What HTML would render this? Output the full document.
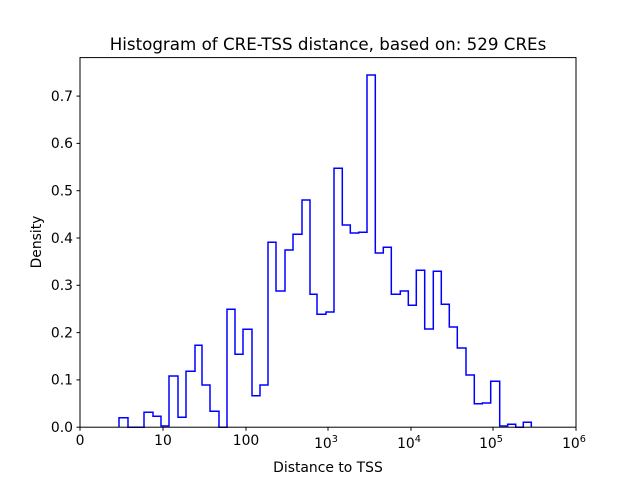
<!DOCTYPE html>
<html><head><style>body{margin:0;background:#fff}svg{display:block}text{font-family:"DejaVu Sans","Liberation Sans",sans-serif;fill:#000}</style></head><body>
<svg width="640" height="480" viewBox="0 0 640 480">
<rect width="640" height="480" fill="#fff"/>
<path fill="none" stroke="#0000ff" stroke-width="1.5" stroke-linejoin="miter" d="M119,427.2 V417.7 H128 V427.2 H144 V412.3 H153 V416.3 H161 V426 H169 V376 H178 V417.3 H186 V371.3 H195 V345.3 H202 V385 H210 V411.3 H219 V427.2 H227 V309.3 H235 V354.3 H243 V329.3 H252 V395.7 H260 V385 H268 V242.3 H276 V291 H285 V250 H293 V234.3 H302 V200 H310 V294.3 H317 V314.3 H326 V312 H334 V168.3 H342.3 V225 H350.3 V233 H358.7 V232.3 H367 V75 H375.3 V253 H383.3 V247.3 H391.3 V294.3 H400.3 V291 H408.3 V305.3 H416.3 V270.3 H424.7 V329 H433.3 V271.3 H441.3 V304.3 H449.3 V327 H457.3 V348 H466 V375 H474.3 V403.7 H482.3 V403 H490.7 V381.3 H499.7 V426 H507.7 V424.3 H515.7 V427.2 H523.3 V422.3 H531.3 V427.2"/>
<rect x="80" y="57.6" width="496" height="369.6" fill="none" stroke="#000" stroke-width="1"/>
<g stroke="#000" stroke-width="1">
<line x1="80" y1="427.2" x2="80" y2="430.7"/><line x1="163" y1="427.2" x2="163" y2="430.7"/><line x1="246" y1="427.2" x2="246" y2="430.7"/><line x1="328" y1="427.2" x2="328" y2="430.7"/><line x1="411" y1="427.2" x2="411" y2="430.7"/><line x1="493" y1="427.2" x2="493" y2="430.7"/><line x1="576" y1="427.2" x2="576" y2="430.7"/>
<line x1="76.5" y1="427.2" x2="80" y2="427.2"/><line x1="76.5" y1="379.9" x2="80" y2="379.9"/><line x1="76.5" y1="332.6" x2="80" y2="332.6"/><line x1="76.5" y1="285.3" x2="80" y2="285.3"/><line x1="76.5" y1="238" x2="80" y2="238"/><line x1="76.5" y1="190.7" x2="80" y2="190.7"/><line x1="76.5" y1="143.4" x2="80" y2="143.4"/><line x1="76.5" y1="96.1" x2="80" y2="96.1"/>
</g>
<g font-size="13.9" text-anchor="end">
<text x="73" y="432">0.0</text><text x="73" y="384.7">0.1</text><text x="73" y="337.4">0.2</text><text x="73" y="290.1">0.3</text><text x="73" y="242.8">0.4</text><text x="73" y="195.5">0.5</text><text x="73" y="148.2">0.6</text><text x="73" y="100.9">0.7</text>
</g>
<g font-size="13.9" text-anchor="middle">
<text x="80" y="445">0</text><text x="163" y="445">10</text><text x="246" y="445">100</text>
<text x="326" y="448">10<tspan font-size="9.7" dy="-6">3</tspan></text>
<text x="409" y="448">10<tspan font-size="9.7" dy="-6">4</tspan></text>
<text x="491" y="448">10<tspan font-size="9.7" dy="-6">5</tspan></text>
<text x="574" y="448">10<tspan font-size="9.7" dy="-6">6</tspan></text>
<text x="328" y="472">Distance to TSS</text>
<text x="328" y="50" font-size="16.7">Histogram of CRE-TSS distance, based on: 529 CREs</text>
<text transform="translate(41,242) rotate(-90)">Density</text>
</g>
</svg>
</body></html>
